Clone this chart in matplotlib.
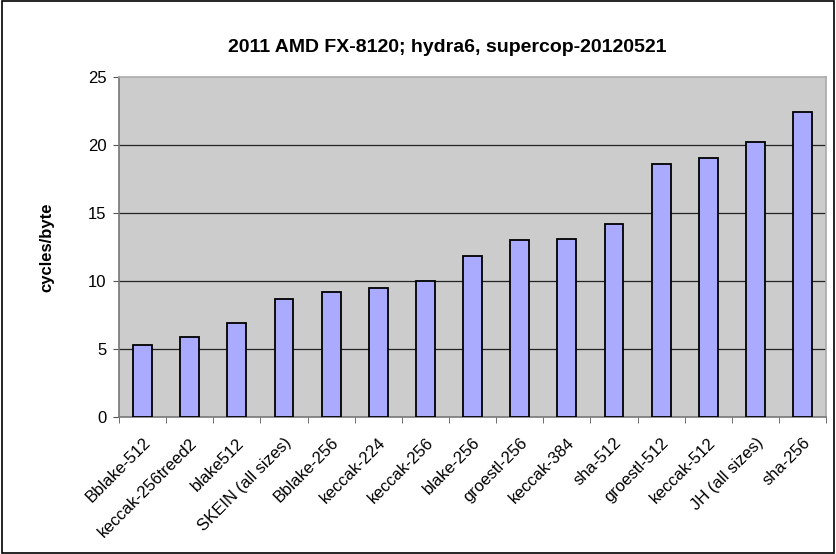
import matplotlib

matplotlib.use("Agg")
import matplotlib.pyplot as plt  # noqa: E402
import numpy as np  # noqa: E402
from matplotlib.patches import Rectangle  # noqa: E402

plt.rcParams["font.family"] = ["Liberation Sans", "DejaVu Sans"]

names = [
    "Bblake-512", "keccak-256treed2", "blake512", "SKEIN (all sizes)",
    "Bblake-256", "keccak-224", "keccak-256", "blake-256", "groestl-256",
    "keccak-384", "sha-512", "groestl-512", "keccak-512", "JH (all sizes)",
    "sha-256",
]
cycles_per_byte = [5.3, 5.9, 6.9, 8.7, 9.2, 9.5, 10.0, 11.8, 13.0,
                   13.1, 14.2, 18.6, 19.0, 20.2, 22.4]
y_ticks = [0, 5, 10, 15, 20, 25]

fig = plt.figure(figsize=(8.36, 5.54), dpi=100)
ax = fig.add_axes([0.1423, 0.2473, 0.846, 0.614])
ax.set_facecolor("#CCCCCC")

x = np.arange(len(names))
ax.bar(x, cycles_per_byte, width=0.4, color="#AAAAFF", edgecolor="black",
       linewidth=1.3, zorder=3)

ax.set_xlim(-0.5, len(names) - 0.5)
ax.set_ylim(0, 25)
ax.set_yticks(y_ticks)
ax.tick_params(axis="y", labelsize=12, length=4, color="#555555", pad=5)
for v in y_ticks[1:-1]:
    ax.axhline(v, color="#222222", lw=0.9, zorder=1)

# category labels sit under the bars, tick marks go between them
ax.set_xticks(x)
ax.set_xticklabels(names, rotation=45, ha="right", rotation_mode="anchor",
                   fontsize=12)
ax.tick_params(axis="x", which="major", length=0, pad=13)
ax.set_xticks(np.arange(len(names) + 1) - 0.5, minor=True)
ax.tick_params(axis="x", which="minor", length=4, color="#555555")

for side in ("top", "right"):
    ax.spines[side].set_color("#AAAAAA")
for side in ("left", "bottom"):
    ax.spines[side].set_color("#777777")
for s in ax.spines.values():
    s.set_linewidth(1.2)

ax.set_ylabel("cycles/byte", fontsize=12, fontweight="bold", labelpad=24)
fig.text(0.535, 0.915, "2011 AMD FX-8120; hydra6, supercop-20120521",
         ha="center", va="center", fontsize=14, fontweight="bold")

fig.patches.append(Rectangle((0.002, 0.002), 0.996, 0.996, transform=fig.transFigure,
                             fill=False, ec="black", lw=1.2))

fig.savefig("out.png", dpi=100)
